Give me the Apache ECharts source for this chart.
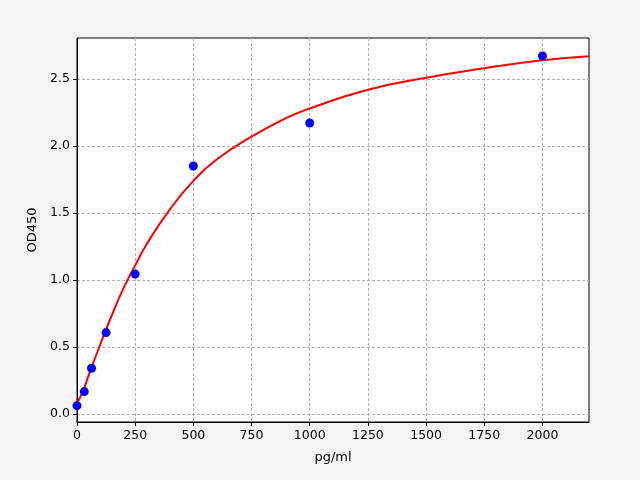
<!DOCTYPE html>
<html>
<head>
<meta charset="utf-8">
<script src="https://cdn.jsdelivr.net/npm/echarts@6/dist/echarts.min.js"></script>
<style>
  html, body { margin: 0; padding: 0; background: #f4f4f4; }
  #main { width: 640px; height: 480px; }
</style>
</head>
<body>
<div id="main"></div>
<script>
// 标准品实测点
const concX = [0, 31.25, 62.5, 125, 250, 500, 1000, 2000];
const odY = [0.064, 0.169, 0.343, 0.609, 1.045, 1.851, 2.172, 2.672];

// 拟合曲线（从图上读出的点）
const fitX = [0, 25, 50, 100, 150, 200, 250, 300, 400, 500, 600, 750, 900, 1000, 1250, 1500, 1750, 2000, 2200];
const fitY = [0.08, 0.17, 0.29, 0.52, 0.74, 0.94, 1.11, 1.27, 1.53, 1.74, 1.90, 2.07, 2.21, 2.28, 2.42, 2.51, 2.58, 2.64, 2.67];

// 刻度
const xTicks = [0, 250, 500, 750, 1000, 1250, 1500, 1750, 2000];
const yTicks = [0, 0.5, 1.0, 1.5, 2.0, 2.5];

const font = 'DejaVu Sans';
const chart = echarts.init(document.getElementById('main'));

const axisCommon = {
  axisLine: { show: true, onZero: false, lineStyle: { color: '#000', width: 1 } },
  axisTick: { show: true, length: 4, lineStyle: { color: '#000' } },
  splitLine: { show: true, lineStyle: { color: '#b0b0b0', type: [3, 2], width: 1 } },
  nameTextStyle: { color: '#000', fontFamily: font, fontSize: 13 },
};

chart.setOption({
  backgroundColor: '#f4f4f4',
  animation: false,
  grid: {
    left: 77, right: 51, top: 38, bottom: 58,
    show: true, backgroundColor: '#fff', borderColor: '#000', borderWidth: 1,
  },
  xAxis: Object.assign({}, axisCommon, {
    type: 'value',
    min: 0,
    max: 2200,
    name: 'pg/ml',
    nameLocation: 'middle',
    nameGap: 29,
    axisTick: Object.assign({}, axisCommon.axisTick, { customValues: xTicks }),
    axisLabel: {
      customValues: xTicks, color: '#000', fontFamily: font, fontSize: 12.5, margin: 7,
      formatter: v => String(v),
    },
  }),
  yAxis: Object.assign({}, axisCommon, {
    type: 'value',
    min: -0.058,
    max: 2.806,
    name: 'OD450',
    nameLocation: 'middle',
    nameGap: 38,
    axisTick: Object.assign({}, axisCommon.axisTick, { customValues: yTicks }),
    axisLabel: {
      customValues: yTicks, color: '#000', fontFamily: font, fontSize: 12.5, margin: 7,
      formatter: v => v.toFixed(1),
    },
  }),
  series: [
    {
      name: 'fit',
      type: 'line',
      data: fitX.map((x, i) => [x, fitY[i]]),
      smooth: 0.5,
      showSymbol: false,
      lineStyle: { color: '#ff0000', width: 2 },
      z: 2,
    },
    {
      name: 'std',
      type: 'scatter',
      data: concX.map((x, i) => [x, odY[i]]),
      symbolSize: 9,
      itemStyle: { color: '#0000ff', opacity: 1 },
      z: 3,
    },
  ],
});
</script>
</body>
</html>
